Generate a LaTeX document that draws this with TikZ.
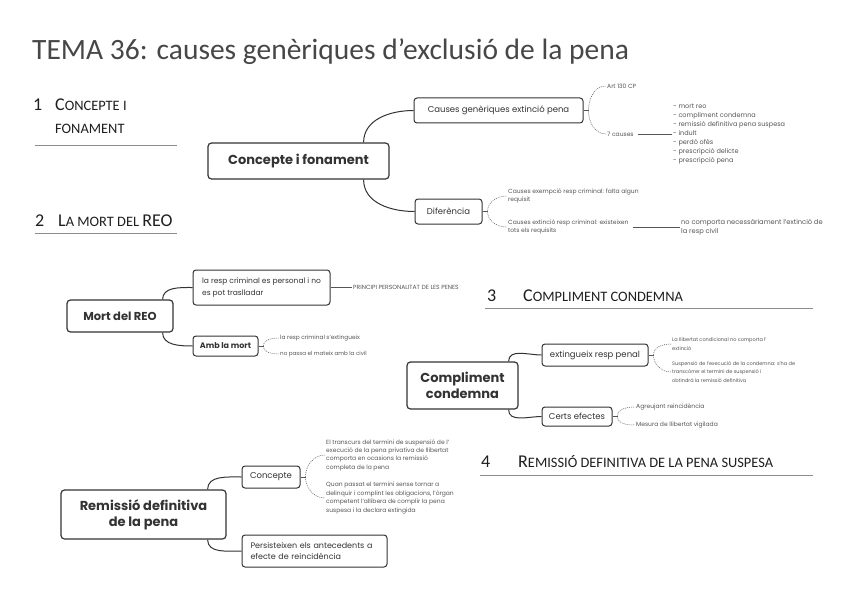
\documentclass[tikz,border=0pt]{standalone}
\usepackage{fontspec}
\setmainfont{Poppins}
\newfontfamily\calib{Carlito}
\definecolor{ink}{HTML}{333333}
\definecolor{leafc}{HTML}{555555}
\definecolor{headc}{HTML}{1F1F1F}
\definecolor{titlec}{HTML}{474747}
\definecolor{rulec}{HTML}{8C8C8C}
\newcommand\BigL[1]{{\fontsize{18}{21}\selectfont #1}}
\newcommand\SmL[1]{{\fontsize{14.4}{17}\selectfont #1}}
\tikzset{
  topic/.style={draw=ink, line width=1.2pt, rounded corners=3.5pt, fill=white, inner sep=0pt, align=center, text=ink, font=\bfseries\fontsize{13}{16}\selectfont},
  subt/.style={draw=ink, line width=1pt, rounded corners=3pt, fill=white, inner sep=0pt, align=center, text=ink, font=\fontsize{8.5}{11}\selectfont},
  leaf/.style={inner sep=1pt, anchor=west, align=left, text=leafc, font=\fontsize{6}{8.6}\selectfont},
  branch/.style={draw=ink, line width=1pt},
  stub/.style={draw=leafc, line width=0.6pt},
  leafline/.style={draw=leafc, line width=0.5pt, dash pattern=on 1pt off 1pt},
  head/.style={anchor=base west, inner sep=0pt, text=headc, font=\calib},
  hrule/.style={draw=rulec, line width=0.6pt}
}
\begin{document}
\begin{tikzpicture}[x=1pt,y=1pt]
\useasboundingbox[fill=white] (0,0) rectangle (848,-599);

% title
\node[anchor=base west, inner sep=0pt, text=titlec, font=\calib\fontsize{29.5}{34}\selectfont] (title) at (32,-60) {TEMA 36: causes genèriques d’exclusió de la pena};

% headings
\node[head] (h1n) at (33,-111) {\BigL{1}};
\node[head] (h1a) at (55,-111) {\BigL{C}\SmL{ONCEPTE I}};
\node[head] (h1b) at (55,-134) {\SmL{FONAMENT}};
\coordinate (r1a) at (35,-145); \coordinate (r1b) at (177,-145);
\draw[hrule] (r1a) -- (r1b);

\node[head] (h2n) at (35,-226) {\BigL{2}};
\node[head] (h2a) at (58,-226) {\BigL{L}\SmL{A MORT DEL }\BigL{REO}};
\coordinate (r2a) at (35,-233); \coordinate (r2b) at (177,-233);
\draw[hrule] (r2a) -- (r2b);

\node[head] (h3n) at (487,-301) {\BigL{3}};
\node[head] (h3a) at (523,-301) {\BigL{C}\SmL{OMPLIMENT CONDEMNA}};
\coordinate (r3a) at (485,-308); \coordinate (r3b) at (813,-308);
\draw[hrule] (r3a) -- (r3b);

\node[head] (h4n) at (481,-467) {\BigL{4}};
\node[head] (h4a) at (518,-467) {\BigL{R}\SmL{EMISSIÓ DEFINITIVA DE LA PENA SUSPESA}};
\coordinate (r4a) at (480,-475); \coordinate (r4b) at (813,-475);
\draw[hrule] (r4a) -- (r4b);

% ---------- Map 1 ----------
\node[topic, minimum width=181pt, minimum height=36pt] (cf) at (298.5,-161) {Concepte i fonament};
\node[subt, minimum width=169pt, minimum height=25pt] (cg) at (498.5,-110.5) {Causes genèriques extinció pena};
\node[subt, minimum width=67pt, minimum height=25pt] (dif) at (448.5,-211.5) {Diferència};
\draw[branch] ([xshift=-26pt]cf.north east) to[out=90,in=180] (cg.west);
\draw[branch] ([xshift=-26pt]cf.south east) to[out=-90,in=180] (dif.west);

\coordinate (k1) at ([xshift=5pt]cg.east);
\draw[stub] (cg.east) -- (k1);
\node[leaf] (art) at (606,-86) {Art 130 CP};
\node[leaf] (c7) at (606,-134) {7 causes};
\draw[leafline] (k1) to[out=90,in=180] (art.west);
\draw[leafline] (k1) to[out=-90,in=180] (c7.west);
\node[leaf, font=\fontsize{6.5}{9}\selectfont] (list) at (672,-134) {- mort reo\\- compliment condemna\\- remissió definitiva pena suspesa\\- indult\\- perdó ofès\\- prescripció delicte\\- prescripció pena};
\draw[stub] ([xshift=3pt]c7.east) -- (list.west);

\coordinate (k2) at ([xshift=5pt]dif.east);
\draw[stub] (dif.east) -- (k2);
\node[leaf] (ex1) at (507,-196) {Causes exempció resp criminal: falta algun\\requisit};
\node[leaf] (ex2) at (507,-227) {Causes extinció resp criminal: existeixen\\tots els requisits};
\draw[leafline] (k2) to[out=90,in=180] (ex1.west);
\draw[leafline] (k2) to[out=-90,in=180] (ex2.west);
\node[leaf, font=\fontsize{6.7}{9.5}\selectfont] (nc) at (680,-227) {no comporta necessàriament l'extinció de\\la resp civil};
\draw[stub] ([xshift=3pt]ex2.east) -- (nc.west);

% ---------- Map 2 ----------
\node[topic, minimum width=106pt, minimum height=32pt, font=\bfseries\fontsize{11.5}{14}\selectfont] (mr) at (120,-316) {Mort del REO};
\node[subt, minimum width=137pt, minimum height=35pt, align=left, font=\fontsize{7.5}{12}\selectfont] (rp) at (261.5,-287.5) {la resp criminal es personal i no\\es pot traslladar};
\node[subt, minimum width=65pt, minimum height=20pt, font=\bfseries\fontsize{8}{10}\selectfont] (am) at (225.5,-346) {Amb la mort};
\draw[branch] ([xshift=-11pt]mr.north east) to[out=90,in=180] (rp.west);
\draw[branch] ([xshift=-11pt]mr.south east) to[out=-90,in=180] (am.west);
\node[leaf, font=\fontsize{6}{7}\selectfont] (pp) at (352,-287.5) {PRINCIPI PERSONALITAT DE LES PENES};
\draw[stub] (rp.east) -- (pp.west);
\coordinate (k3) at ([xshift=5pt]am.east);
\draw[stub] (am.east) -- (k3);
\node[leaf, font=\fontsize{5.8}{7}\selectfont] (am1) at (279,-338) {la resp criminal s'extingueix};
\node[leaf, font=\fontsize{5.6}{7}\selectfont] (am2) at (279,-354) {no passa el mateix amb la civil};
\draw[leafline] (k3) to[out=90,in=180] (am1.west);
\draw[leafline] (k3) to[out=-90,in=180] (am2.west);

% ---------- Map 3 ----------
\node[topic, minimum width=111pt, minimum height=47pt, font=\bfseries\fontsize{13}{16}\selectfont] (cc) at (462.5,-385.5) {Compliment\\condemna};
\node[subt, minimum width=106pt, minimum height=22pt] (ex) at (595,-355) {extingueix resp penal};
\node[subt, minimum width=70pt, minimum height=19pt] (ce) at (577,-416.5) {Certs efectes};
\draw[branch] ([xshift=-10pt]cc.north east) to[out=90,in=180] (ex.west);
\draw[branch] ([xshift=-10pt]cc.south east) to[out=-90,in=180] (ce.west);
\coordinate (k4) at ([xshift=5pt]ex.east);
\draw[stub] (ex.east) -- (k4);
\node[leaf, font=\fontsize{5}{8.8}\selectfont] (ex3) at (671,-344) {La llibertat condicional no comporta l'\\extinció};
\node[leaf, font=\fontsize{5}{8.8}\selectfont] (ex4) at (671,-372) {Suspensió de l'execució de la condemna: s'ha de\\transcórrer el termini de suspensió i\\obtindrà la remissió definitiva};
\draw[leafline] (k4) to[out=90,in=180] (ex3.west);
\draw[leafline] (k4) to[out=-90,in=180] (ex4.west);
\coordinate (k5) at ([xshift=5pt]ce.east);
\draw[stub] (ce.east) -- (k5);
\node[leaf] (ce1) at (635,-407) {Agreujant reincidència};
\node[leaf] (ce2) at (635,-425) {Mesura de llibertat vigilada};
\draw[leafline] (k5) to[out=90,in=180] (ce1.west);
\draw[leafline] (k5) to[out=-90,in=180] (ce2.west);

% ---------- Map 4 ----------
\node[topic, minimum width=165pt, minimum height=49pt] (rd) at (143.5,-514.5) {Remissió definitiva\\de la pena};
\node[subt, minimum width=58pt, minimum height=22pt] (cp) at (271,-477) {Concepte};
\node[subt, minimum width=145pt, minimum height=32pt, align=left, text width=128pt, font=\fontsize{8}{11}\selectfont] (pe) at (314.5,-551) {Persisteixen els antecedents a\\efecte de reincidència};
\draw[branch] ([xshift=-19pt]rd.north east) to[out=90,in=180] (cp.west);
\draw[branch] ([xshift=-19pt]rd.south east) to[out=-90,in=180] (pe.west);
\coordinate (k6) at ([xshift=5pt]cp.east);
\draw[stub] (cp.east) -- (k6);
\node[leaf, font=\fontsize{6}{8.3}\selectfont] (cp1) at (325,-455) {El transcurs del termini de suspensió de l'\\execució de la pena privativa de llibertat\\comporta en ocasions la remissió\\completa de la pena};
\node[leaf, font=\fontsize{6}{8.6}\selectfont] (cp2) at (325,-498) {Quan passat el termini sense tornar a\\delinquir i complint les obligacions, l'òrgan\\competent l'allibera de complir la pena\\suspesa i la declara extingida};
\draw[leafline] (k6) to[out=90,in=180] (cp1.west);
\draw[leafline] (k6) to[out=-90,in=180] (cp2.west);
\end{tikzpicture}
\end{document}
